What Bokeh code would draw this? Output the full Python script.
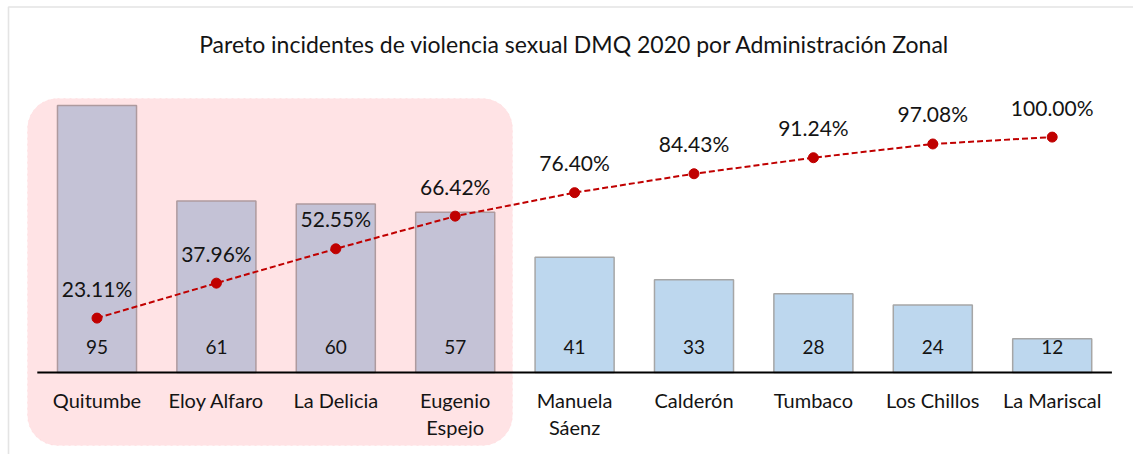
from bokeh.plotting import figure
from bokeh.models import Range1d, BoxAnnotation, ColumnDataSource
from bokeh.core.properties import value
from bokeh.embed import file_html
from bokeh.resources import INLINE

# ---- data ----
title_text = "Pareto incidentes de violencia sexual DMQ 2020 por Administración Zonal"
categories = ["Quitumbe", "Eloy Alfaro", "La Delicia", "Eugenio\nEspejo", "Manuela\nSáenz",
              "Calderón", "Tumbaco", "Los Chillos", "La Mariscal"]
counts = [95, 61, 60, 57, 41, 33, 28, 24, 12]
cum_pct = [23.11, 37.96, 52.55, 66.42, 76.40, 84.43, 91.24, 97.08, 100.00]
n_highlight = 4  # first zones grouped in the shaded box

# ---- layout ----
FONT = "Lato"
W, H = 1133, 454
PX_PER_CAT = 119.4
FIRST_CENTER_PX = 96.5
PX_PER_UNIT = 2.81
PX_PER_PCT = 2.354
BASE_PX = 372  # baseline, pixels from top

X0 = -FIRST_CENTER_PX / PX_PER_CAT
x_range = Range1d(X0, X0 + W / PX_PER_CAT)
y_range = Range1d(-(H - BASE_PX) / PX_PER_UNIT, BASE_PX / PX_PER_UNIT)
pct_range = Range1d(-(H - BASE_PX) / PX_PER_PCT, BASE_PX / PX_PER_PCT)


def px_x(px):
    return X0 + px / PX_PER_CAT


def px_y(py):
    return (BASE_PX - py) / PX_PER_UNIT


p = figure(width=W, height=H, x_range=x_range, y_range=y_range,
           output_backend="svg", toolbar_location=None,
           x_axis_location=None, y_axis_location=None, min_border=0)
p.extra_y_ranges = {"pct": pct_range}
p.outline_line_color = None
p.background_fill_color = "white"
p.border_fill_color = "white"
p.xgrid.visible = False
p.ygrid.visible = False

idx = list(range(len(categories)))

# outer chart border (left and top edges visible)
p.add_layout(BoxAnnotation(left=px_x(8), right=x_range.end + 1,
                           top=px_y(6.5), bottom=y_range.start - 1,
                           fill_alpha=0, line_color="#A6A6A6", line_width=1.6,
                           level="underlay"))

# shaded highlight box behind the first group
p.add_layout(BoxAnnotation(left=0 - 0.582, right=(n_highlight - 1) + 0.48,
                           top=px_y(98), bottom=px_y(445),
                           fill_color="#FFE3E5", fill_alpha=1.0,
                           line_color="#FFCACD", line_width=1, line_dash="dotted",
                           border_radius=30, level="underlay"))

fills = ["#C4C2D6" if i < n_highlight else "#BDD7EE" for i in idx]
borders = ["#AE9A9E" if i < n_highlight else "#A6A6A6" for i in idx]
src = ColumnDataSource(dict(x=idx, top=counts, fill=fills, border=borders,
                            lab=[str(c) for c in counts]))
p.vbar(x="x", top="top", bottom=0, width=0.662, source=src,
       fill_color="fill", line_color="border", line_width=1.5)

# baseline (x axis line)
p.segment(x0=[idx[0] - 0.5], x1=[idx[-1] + 0.5], y0=[0], y1=[0],
          line_color="black", line_width=2)

# value labels in bars
p.text(x="x", y=0, text="lab", source=src, text_align="center",
       text_baseline="middle", y_offset=-26, text_font=value(FONT),
       text_font_size="19px", text_color="#141414")

# category labels (up to two lines)
line1 = [c.split("\n")[0] for c in categories]
line2 = [c.split("\n")[1] if "\n" in c else "" for c in categories]
p.text(x=idx, y=[0] * len(idx), text=line1, text_align="center",
       text_baseline="middle", y_offset=27, text_font=value(FONT),
       text_font_size="20px", text_color="#141414")
p.text(x=idx, y=[0] * len(idx), text=line2, text_align="center",
       text_baseline="middle", y_offset=54, text_font=value(FONT),
       text_font_size="20px", text_color="#141414")

# cumulative line
p.line(idx, cum_pct, y_range_name="pct", line_color="#C00000",
       line_width=2, line_dash="6 3")
p.scatter(idx, cum_pct, y_range_name="pct", size=10, fill_color="#C00000",
          line_color="#C00000")
p.text(x=idx, y=cum_pct, text=[f"{v:.2f}%" for v in cum_pct], y_range_name="pct",
       text_align="center", text_baseline="middle", y_offset=-30,
       text_font=value(FONT), text_font_size="21px", text_color="#141414")

# title
p.text(x=[(len(idx) - 1) / 2], y=[y_range.end], text=[title_text],
       text_align="center", text_baseline="middle", y_offset=43,
       text_font=value(FONT), text_font_size="23px", text_color="#141414")

open("out.html", "w").write(file_html(p, INLINE))
